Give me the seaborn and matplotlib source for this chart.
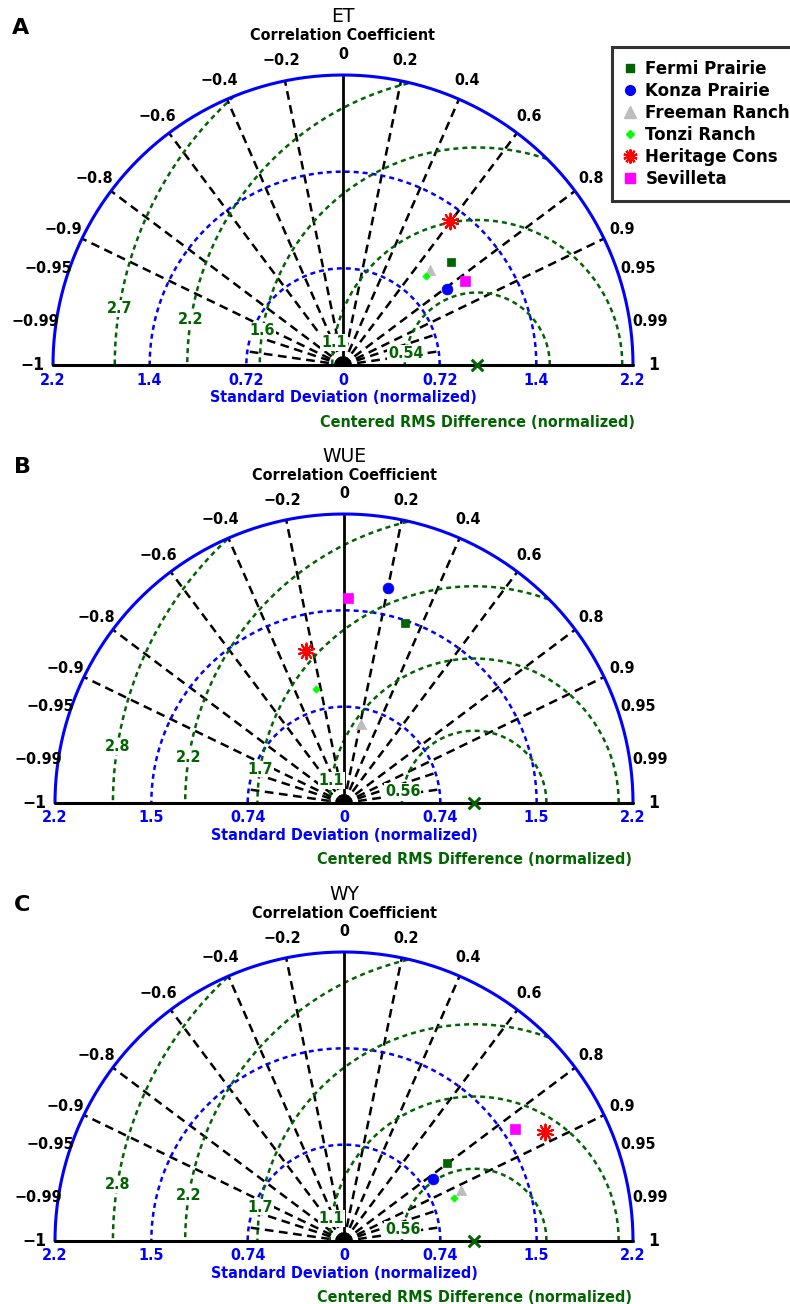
import numpy as np
import matplotlib
matplotlib.use("Agg")
import matplotlib.pyplot as plt
import seaborn as sns
from matplotlib.lines import Line2D
from matplotlib.patches import Wedge
from matplotlib import font_manager

sns.set_style("white")
plt.rcParams["font.family"] = ["DejaVu Sans"]
plt.rcParams["text.color"] = "black"

# ---------------------------------------------------------------- data
sites = ["Fermi Prairie", "Konza Prairie", "Freeman Ranch",
         "Tonzi Ranch", "Heritage Cons", "Sevilleta"]
site_colors = ["#006400", "#0000ff", "#bdbdbd", "#00ff00", "#ff0000", "#ff00ff"]
site_markers = ["s", "o", "^", "D", (10, 2, 0), "s"]
site_sizes = [34, 60, 55, 14, 130, 52]

# normalized standard deviation and correlation of each site
et_std = [1.11, 0.962, 0.957, 0.908, 1.333, 1.10]
et_corr = [0.722, 0.807, 0.676, 0.680, 0.596, 0.823]
wue_std = [1.461, 1.683, 0.622, 0.904, 1.201, 1.573]
wue_corr = [0.320, 0.200, 0.207, -0.235, -0.246, 0.021]
wy_std = [0.990, 0.834, 0.977, 0.903, 1.755, 1.570]
wy_corr = [0.798, 0.820, 0.917, 0.932, 0.879, 0.838]

panel_letters = ["A", "B", "C"]
panel_titles = ["ET", "WUE", "WY"]

std_ticks_et = [0.72, 1.44, 2.16]
std_labels_et = ["0.72", "1.4", "2.2"]
std_ticks_wue = [0.74, 1.48, 2.22]
std_labels_wue = ["0.74", "1.5", "2.2"]
std_ticks_wy = [0.74, 1.48, 2.22]
std_labels_wy = ["0.74", "1.5", "2.2"]

rms_ticks_et = [0.54, 1.08, 1.62, 2.16, 2.70]
rms_labels_et = ["0.54", "1.1", "1.6", "2.2", "2.7"]
rms_ticks_wue = [0.555, 1.11, 1.665, 2.22, 2.775]
rms_labels_wue = ["0.56", "1.1", "1.7", "2.2", "2.8"]
rms_ticks_wy = [0.555, 1.11, 1.665, 2.22, 2.775]
rms_labels_wy = ["0.56", "1.1", "1.7", "2.2", "2.8"]

corr_ticks = [0.2, 0.4, 0.6, 0.8, 0.9, 0.95, 0.99]
corr_labels = ["0.2", "0.4", "0.6", "0.8", "0.9", "0.95", "0.99"]
# rays for the densest ticks stop at the innermost std arc
short_rays = [0.95, 0.99]

# ---------------------------------------------------------------- fonts
has_condensed = any(f.name == "DejaVu Sans" and f.stretch == "condensed"
                    for f in font_manager.fontManager.ttflist)
AX_FONT = dict(family="DejaVu Sans", weight="bold",
               stretch="condensed" if has_condensed else "normal")
AX_SIZE = 11.5 if has_condensed else 10.5

W, H = 790, 1304
fig = plt.figure(figsize=(W / 100, H / 100), dpi=100)
fig.patch.set_facecolor("white")

GREEN = "#006400"
BLUE = "#0000ff"


def add_panel_axes(cx, cy, scale):
    """Axes whose data unit equals `scale` pixels, origin at pixel (cx, cy)."""
    ytop, ybot = cy - 305, cy + 12
    ax = fig.add_axes([0, 1 - ybot / H, 1, (ybot - ytop) / H])
    ax.set_xlim(-cx / scale, (W - cx) / scale)
    ax.set_ylim(-(ybot - cy) / scale, (cy - ytop) / scale)
    ax.axis("off")
    return ax


def draw_taylor(ax, scale, letter, title, std, corr, std_ticks, std_labels,
                rms_ticks, rms_labels):
    rmax = std_ticks[-1]
    px = 1.0 / scale
    th = np.linspace(0, np.pi, 400)

    # standard deviation arcs
    ax.plot(rmax * np.cos(th), rmax * np.sin(th), color=BLUE, lw=2.2, zorder=3)
    for r in std_ticks[:-1]:
        ax.plot(r * np.cos(th), r * np.sin(th), color=BLUE, lw=1.8,
                ls=(0, (2.0, 1.6)), zorder=2)

    # centred RMS difference arcs around the reference point
    for r in rms_ticks:
        xs = 1.0 + r * np.cos(th)
        ys = r * np.sin(th)
        inside = np.hypot(xs, ys) <= rmax
        xs = np.where(inside, xs, np.nan)
        ys = np.where(inside, ys, np.nan)
        ax.plot(xs, ys, color=GREEN, lw=1.8, ls=(0, (2.0, 1.6)), zorder=2)

    # correlation rays
    for c in corr_ticks:
        a = np.arccos(c)
        length = std_ticks[0] if c in short_rays else rmax
        for s in (1, -1):
            ax.plot([0, s * length * np.cos(a)], [0, length * np.sin(a)],
                    color="black", lw=1.8, ls=(0, (3.5, 2.2)), zorder=1)
    ax.plot([0, 0], [0, rmax], color="black", lw=2.0, zorder=2)
    ax.plot([-rmax, rmax], [0, 0], color="black", lw=2.2, zorder=3)
    ax.add_patch(Wedge((0, 0), 7 * px, 0, 180, color="black", zorder=4))

    # correlation tick labels
    rl = 1.07 * rmax
    for c, lab in zip(corr_ticks, corr_labels):
        a = np.arccos(c)
        ax.text(rl * np.cos(a), rl * np.sin(a), lab, ha="center", va="center",
                size=AX_SIZE, **AX_FONT)
        ax.text(-rl * np.cos(a), rl * np.sin(a), "\u2212" + lab, ha="center",
                va="center", size=AX_SIZE, **AX_FONT)
    ax.text(0, rl, "0", ha="center", va="center", size=AX_SIZE, **AX_FONT)
    ax.text(rl, 0, "1", ha="center", va="center", size=AX_SIZE + 1, **AX_FONT)
    ax.text(-rl, 0, "\u22121", ha="center", va="center", size=AX_SIZE + 1,
            **AX_FONT)
    ax.text(0, rmax + 39 * px, "Correlation Coefficient", ha="center",
            va="center", size=AX_SIZE, **AX_FONT)
    ax.text(0, rmax + 58 * px, title, ha="center", va="center", size=13.5)
    ax.text(-343 * px + 21 * px, rmax + 47 * px, letter, ha="center",
            va="center", size=16, weight="bold")

    # standard deviation tick labels
    ax.text(0, -15 * px, "0", ha="center", va="center", color=BLUE,
            size=AX_SIZE, **AX_FONT)
    for r, lab in zip(std_ticks, std_labels):
        for s in (1, -1):
            ax.text(s * r, -15 * px, lab, ha="center", va="center",
                    color=BLUE, size=AX_SIZE, **AX_FONT)
    ax.text(0, -32 * px, "Standard Deviation (normalized)", ha="center",
            va="center", color=BLUE, size=AX_SIZE, **AX_FONT)
    ax.text(1.0, -57 * px, "Centered RMS Difference (normalized)",
            ha="center", va="center", color=GREEN, size=AX_SIZE, **AX_FONT)

    # RMS labels
    la = np.deg2rad(171)
    for r, lab in zip(rms_ticks, rms_labels):
        ax.text(1.0 + r * np.cos(la), r * np.sin(la), lab, ha="center",
                va="center", color=GREEN, size=AX_SIZE, **AX_FONT,
                bbox=dict(boxstyle="square,pad=0.05", fc="white", ec="none"),
                zorder=6)

    # reference point
    sns.scatterplot(x=[1.0], y=[0.0], marker="x", s=70, color=GREEN,
                    linewidth=2.2, ax=ax, zorder=7)

    # site points
    std = np.asarray(std)
    corr = np.asarray(corr)
    xs = std * corr
    ys = std * np.sin(np.arccos(corr))
    for x, y, col, mk, sz in zip(xs, ys, site_colors, site_markers, site_sizes):
        if mk == (10, 2, 0):
            sns.scatterplot(x=[x], y=[y], marker=mk, s=sz, color=col,
                            linewidth=1.4, ax=ax, zorder=8)
        else:
            sns.scatterplot(x=[x], y=[y], marker=mk, s=sz, color=col,
                            edgecolor=col, linewidth=0.5, ax=ax, zorder=8)


panels = [
    (343, 365, 290 / 2.16, std_ticks_et, std_labels_et, rms_ticks_et,
     rms_labels_et, et_std, et_corr),
    (344, 803, 289 / 2.22, std_ticks_wue, std_labels_wue, rms_ticks_wue,
     rms_labels_wue, wue_std, wue_corr),
    (344, 1241, 289 / 2.22, std_ticks_wy, std_labels_wy, rms_ticks_wy,
     rms_labels_wy, wy_std, wy_corr),
]

for i, (cx, cy, sc, st, sl, rt, rl_, sd, cr) in enumerate(panels):
    ax = add_panel_axes(cx, cy, sc)
    draw_taylor(ax, sc, panel_letters[i], panel_titles[i], sd, cr, st, sl, rt, rl_)

# legend
legend_ms = [6, 7, 8, 4.5, 10, 6.5]
handles = []
for col, mk, ms in zip(site_colors, site_markers, legend_ms):
    if mk == (10, 2, 0):
        handles.append(Line2D([], [], marker=mk, color=col, ls="none",
                              markersize=ms, markeredgewidth=1.6))
    else:
        handles.append(Line2D([], [], marker=mk, color=col, ls="none",
                              markersize=ms, markeredgecolor=col))
leg = fig.legend(handles, sites, loc="upper left",
                 bbox_to_anchor=(612 / W, 1 - 47 / H, 0.35, 0), mode="expand",
                 prop=dict(family="DejaVu Sans", weight="bold", size=12),
                 frameon=True, fancybox=False, borderpad=0.75, labelspacing=0.25,
                 handlelength=0.6, handletextpad=0.65, borderaxespad=0)
leg.get_frame().set_edgecolor("black")
leg.get_frame().set_linewidth(2.2)

fig.savefig("out.png", dpi=100, facecolor="white")
